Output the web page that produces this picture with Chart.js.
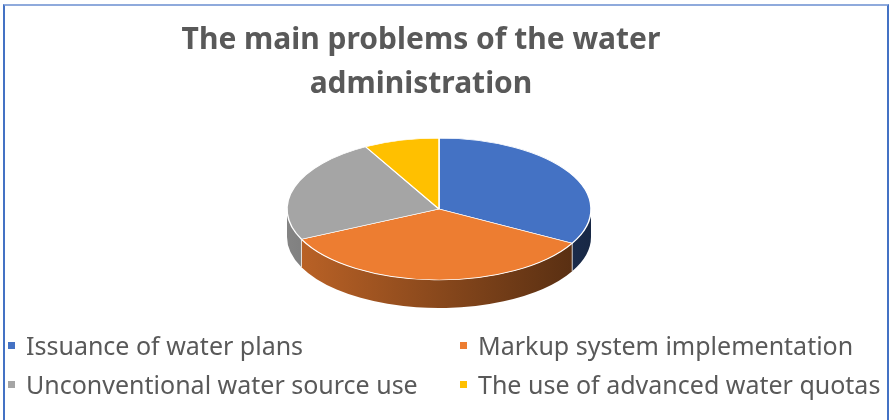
<!DOCTYPE html>
<html>
<head>
<meta charset="utf-8">
<script src="https://cdn.jsdelivr.net/npm/chart.js@4.4.1/dist/chart.umd.min.js"></script>
<style>
    html, body { margin: 0; padding: 0; background: #fff; }
    #wrap { position: relative; width: 889px; height: 420px; overflow: hidden; }
    #frame { position: absolute; left: 3px; top: 4px; width: 882px; height: 430px;
        border-left: 2px solid #4472C4; border-right: 2px solid #4472C4; border-top: 2px solid #8FAADC; }
    #pie { position: absolute; left: 0; top: 0; }
    #legend { position: absolute; left: 8px; top: 326px; display: grid;
        grid-template-columns: 452px 420px; row-gap: 1px;
        font-family: "Noto Sans", "Open Sans", sans-serif; font-size: 25px; color: #595959; }
    #legend .item { display: flex; align-items: center; height: 38px; white-space: nowrap; }
    #legend .box { width: 7px; height: 7px; margin-right: 11px; flex: none; }
</style>
</head>
<body>
<div id="wrap">
    <div id="frame"></div>
    <canvas id="pie" width="889" height="420"></canvas>
    <div id="legend"></div>
</div>
<script>
const categories = [
    'Issuance of water plans',
    'Markup system implementation',
    'Unconventional water source use',
    'The use of advanced water quotas'
];
const shares = [33, 35, 24, 8];
const sliceColors = ['#4472C4', '#ED7D31', '#A5A5A5', '#FFC000'];

function shade(hex, f) {
    const n = parseInt(hex.slice(1), 16);
    const r = Math.round(((n >> 16) & 255) * f);
    const g = Math.round(((n >> 8) & 255) * f);
    const b = Math.round((n & 255) * f);
    return `rgb(${r},${g},${b})`;
}

// fake 3d: side walls under the front half, squashed top face
const pie3d = {
    id: 'pie3d',
    beforeDatasetsDraw(chart, args, opts) {
        const arcs = chart.getDatasetMeta(0).data;
        if (!arcs.length) return;
        const ctx = chart.ctx;
        const R = arcs[0].outerRadius;
        const cx = arcs[0].x + opts.shiftX, cy = arcs[0].y;
        const ry = R * opts.tilt;

        ctx.save();
        arcs.forEach((arc, i) => {
            const col = sliceColors[i];
            for (const off of [0, 2 * Math.PI, -2 * Math.PI]) {
                const s = Math.max(arc.startAngle + off, 0);
                const e = Math.min(arc.endAngle + off, Math.PI);
                if (e <= s) continue;
                const grad = ctx.createLinearGradient(cx - R, 0, cx + R, 0);
                grad.addColorStop(0, shade(col, 0.8));
                grad.addColorStop(1, shade(col, 0.35));
                ctx.fillStyle = grad;
                ctx.beginPath();
                ctx.ellipse(cx, cy, R, ry, 0, s, e);
                ctx.ellipse(cx, cy + opts.depth, R, ry, 0, e, s, true);
                ctx.closePath();
                ctx.fill();
                // light seam at the start of the wall
                if (s > 0) {
                    const x = cx + R * Math.cos(s), y = cy + ry * Math.sin(s);
                    ctx.strokeStyle = 'rgba(255,255,255,0.7)';
                    ctx.lineWidth = 1;
                    ctx.beginPath();
                    ctx.moveTo(x, y);
                    ctx.lineTo(x, y + opts.depth);
                    ctx.stroke();
                }
            }
        });
        ctx.restore();

        ctx.save();
        ctx.translate(cx, cy);
        ctx.scale(1, opts.tilt);
        ctx.translate(-arcs[0].x, -arcs[0].y);
    },
    afterDatasetsDraw(chart) {
        if (chart.getDatasetMeta(0).data.length) chart.ctx.restore();
    }
};

const chart = new Chart(document.getElementById('pie'), {
    type: 'pie',
    data: {
        labels: categories,
        datasets: [{
            data: shares,
            backgroundColor: sliceColors,
            borderColor: '#ffffff',
            borderWidth: 1.5,
            radius: 152,
            clip: false
        }]
    },
    options: {
        responsive: false,
        animation: false,
        events: [],
        layout: { padding: { top: 0, left: 0, right: 47, bottom: 108 } },
        plugins: {
            legend: { display: false },
            tooltip: { enabled: false },
            title: {
                display: true,
                text: ['The main problems of the water', 'administration'],
                color: '#595959',
                font: { family: '"Noto Sans", "Open Sans", sans-serif', size: 30, weight: 'bold', lineHeight: 1.467 },
                padding: { top: 18, bottom: 0 }
            },
            pie3d: { tilt: 0.467, depth: 28, shiftX: 18 }
        }
    },
    plugins: [pie3d]
});

// legend in two columns, like the original
const legendEl = document.getElementById('legend');
categories.forEach((name, i) => {
    const item = document.createElement('div');
    item.className = 'item';
    item.innerHTML = `<span class="box" style="background:${sliceColors[i]}"></span><span>${name}</span>`;
    legendEl.appendChild(item);
});
</script>
</body>
</html>
